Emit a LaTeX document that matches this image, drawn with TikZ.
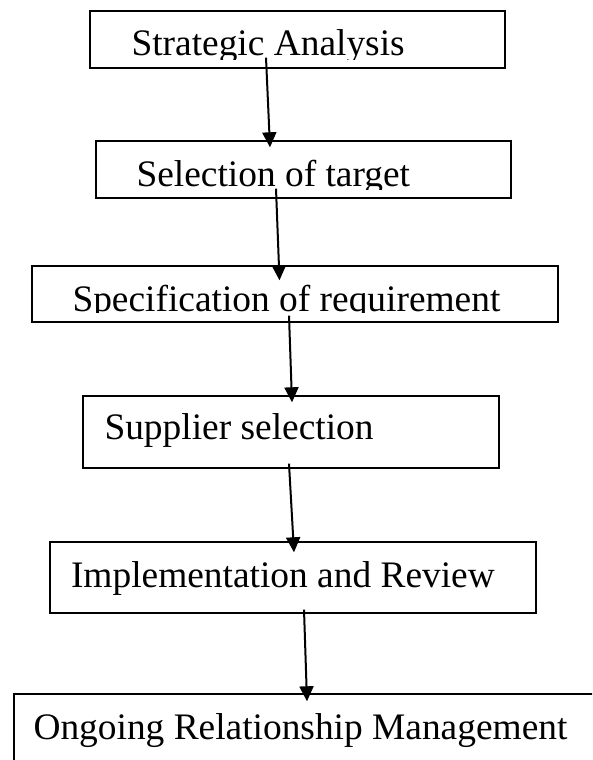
\documentclass[tikz,border=0pt]{standalone}
\usepackage{fontspec}
\setmainfont{Liberation Serif}
\usetikzlibrary{arrows.meta}
\begin{document}
\begin{tikzpicture}[x=1pt,y=-1pt,
  box/.style={draw=black, line width=1.4pt, inner sep=0pt, rectangle},
  txt/.style={anchor=base west, inner sep=0pt, outer sep=0pt, font=\fontsize{37.4}{44}\selectfont},
  flow/.style={line width=2pt, -{Triangle[width=14pt,length=15pt]}}]
\useasboundingbox (0,0) rectangle (592,760);
\clip (0,0) rectangle (592,760);
% boxes
\node[box, minimum width=415pt, minimum height=57pt] (b1) at (297.5,39.5) {};
\node[box, minimum width=415pt, minimum height=57pt] (b2) at (303.5,169.5) {};
\node[box, minimum width=526pt, minimum height=56pt] (b3) at (295,294) {};
\node[box, minimum width=416pt, minimum height=72pt] (b4) at (291,432) {};
\node[box, minimum width=486pt, minimum height=71pt] (b5) at (293,577.5) {};
\node[box, minimum width=586pt, minimum height=90pt] (b6) at (307,739) {};
% texts (first three clipped just below the baseline)
\begin{scope}
\clip (0,0) rectangle (592,59.3);
\node[txt] (t1) at (131.5,56) {Strategic Analysis};
\end{scope}
\begin{scope}
\clip (0,100) rectangle (592,189);
\node[txt] (t2) at (136.5,186.5) {Selection of target};
\end{scope}
\begin{scope}
\clip (0,250) rectangle (592,312.8);
\node[txt] (t3) at (72.5,311) {Specification of requirement};
\end{scope}
\node[txt] (t4) at (104.5,439) {Supplier selection};
\node[txt] (t5) at (71,587.5) {Implementation and Review};
\node[txt] (t6) at (33.5,739) {Ongoing Relationship Management};
% connectors
\draw[flow] ([xshift=-31.5pt,yshift=11pt]b1.south) -- ([xshift=-33.5pt,yshift=-7pt]b2.north);
\draw[flow] ([xshift=-27.5pt,yshift=10pt]b2.south) -- ([xshift=-15.5pt,yshift=-15pt]b3.north);
\draw[flow] ([xshift=-6pt,yshift=7pt]b3.south) -- ([xshift=1pt,yshift=-7pt]b4.north);
\draw[flow] ([xshift=-2pt,yshift=5pt]b4.south) -- ([xshift=1pt,yshift=-11pt]b5.north);
\draw[flow] ([xshift=11pt,yshift=4pt]b5.south) -- ([xshift=0pt,yshift=-8pt]b6.north);
\end{tikzpicture}
\end{document}
